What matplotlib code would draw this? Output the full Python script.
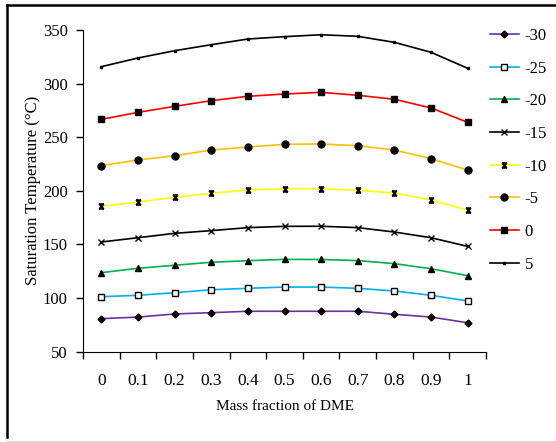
import matplotlib
matplotlib.use('Agg')
import matplotlib.pyplot as plt
from matplotlib.lines import Line2D
from matplotlib.path import Path
import numpy as np

plt.rcParams['font.family'] = ['Liberation Serif', 'DejaVu Serif']

mass_fraction = ['0', '0.1', '0.2', '0.3', '0.4', '0.5', '0.6', '0.7', '0.8', '0.9', '1']

t_m30 = [80.8, 82.3, 85.2, 86.4, 87.7, 87.7, 87.7, 87.7, 84.9, 82.3, 77.0]
t_m25 = [101.3, 102.6, 105.0, 107.8, 109.1, 110.3, 110.3, 109.1, 106.6, 102.6, 97.3]
t_m20 = [123.7, 127.8, 130.6, 133.4, 134.9, 136.1, 136.0, 135.0, 132.1, 127.4, 120.9]
t_m15 = [152.3, 156.3, 160.4, 162.9, 165.7, 166.9, 167.0, 165.7, 161.6, 156.3, 148.2]
t_m10 = [185.6, 189.6, 194.0, 197.7, 200.8, 202.0, 202.0, 200.5, 198.0, 191.5, 181.9]
t_m5 = [223.5, 228.8, 232.8, 238.1, 240.9, 243.4, 243.7, 242.1, 238.1, 230.0, 219.4]
t_0 = [266.7, 273.2, 278.8, 284.1, 288.2, 290.3, 291.9, 289.1, 285.4, 277.3, 263.9]
t_5 = [315.8, 323.9, 330.7, 336.3, 341.6, 343.8, 345.6, 344.1, 338.5, 329.2, 314.3]

labels = ['-30', '-25', '-20', '-15', '-10', '-5', '0', '5']
series = [t_m30, t_m25, t_m20, t_m15, t_m10, t_m5, t_0, t_5]
colors = ['#7030A0', '#00B0F0', '#00B050', '#000000', '#FFFF00', '#FFC000', '#FF0000', '#000000']

# excel style "star" marker: an x with bars on top and bottom
star = Path([(-1, 1), (1, -1), (-1, -1), (1, 1), (-1, 1), (1, 1), (-1, -1), (1, -1)],
            [Path.MOVETO, Path.LINETO, Path.MOVETO, Path.LINETO,
             Path.MOVETO, Path.LINETO, Path.MOVETO, Path.LINETO])

styles = [
    dict(marker='D', ms=3.5, mfc='k', mec='k'),
    dict(marker='s', ms=4.5, mfc='white', mec='k', mew=1.0),
    dict(marker='^', ms=4.5, mfc='k', mec='k'),
    dict(marker='x', ms=4, mec='k', mew=1.0),
    dict(marker=star, ms=3.5, mec='k', mew=1.2),
    dict(marker='o', ms=5, mfc='k', mec='k'),
    dict(marker='s', ms=5, mfc='k', mec='k'),
    dict(marker='s', ms=2, mfc='k', mec='k'),
]

fig = plt.figure(figsize=(5.56, 4.42), dpi=100)
ax = fig.add_axes([0.1493, 0.2043, 0.7248, 0.7278])

x = np.arange(len(mass_fraction))
for lab, y, c, st in zip(labels, series, colors, styles):
    ax.plot(x, y, color=c, lw=1.2, label=lab, **st)

ax.set_xlim(-0.5, len(mass_fraction) - 0.5)
ax.set_ylim(50, 350)
ax.set_yticks(np.arange(50, 351, 50))
ax.set_xticks(np.arange(len(mass_fraction) + 1) - 0.5)
ax.set_xticklabels([])
ax.set_xticks(x, minor=True)
ax.set_xticklabels(mass_fraction, minor=True)
ax.tick_params(axis='x', which='major', direction='out', length=5, width=1)
ax.tick_params(axis='x', which='minor', length=0, pad=15, labelsize=12.5)
ax.tick_params(axis='y', direction='out', length=5, width=1, pad=6, labelsize=12)
ax.spines['top'].set_visible(False)
ax.spines['right'].set_visible(False)

ax.set_ylabel('Saturation Temperature (\u00b0C)', fontsize=12, labelpad=1)
ax.set_xlabel('Mass fraction of DME', fontsize=11, labelpad=8)

ax.legend(loc='upper left', bbox_to_anchor=(0.881, 0.937), bbox_transform=fig.transFigure,
          frameon=False, fontsize=12, handlelength=1.75, handletextpad=0.35,
          labelspacing=1.0, borderpad=0, borderaxespad=0)

# frame around the picture
fig.add_artist(Line2D([6.5 / 556, 1], [1 - 4.5 / 442] * 2, transform=fig.transFigure, color='k', lw=1.8))
fig.add_artist(Line2D([6.5 / 556] * 2, [1 - 4.5 / 442, 1 - 437 / 442], transform=fig.transFigure, color='k', lw=1.8))
fig.add_artist(Line2D([6.5 / 556, 1], [1 - 440.5 / 442] * 2, transform=fig.transFigure, color='#dddddd', lw=1.0))

fig.savefig('out.png', dpi=100)
